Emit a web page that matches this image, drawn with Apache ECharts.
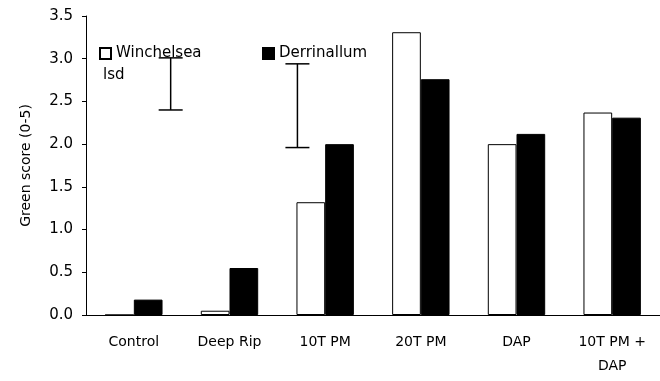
<!DOCTYPE html>
<html>
<head>
<meta charset="utf-8">
<script src="https://cdn.jsdelivr.net/npm/echarts@6/dist/echarts.min.js"></script>
<style>
  html, body { margin: 0; padding: 0; background: #fff; }
  #chart { width: 660px; height: 381px; }
</style>
</head>
<body>
<div id="chart"></div>
<script>
// categories and values
const categories = ['Control', 'Deep Rip', '10T PM', '20T PM', 'DAP', '10T PM +\nDAP'];
const winchelsea = [0, 0.05, 1.32, 3.31, 2.0, 2.37];
const derrinallum = [0.18, 0.55, 2.0, 2.76, 2.12, 2.31];

// lsd bars: position along the category axis (0..6) and their range
const lsdPos = [0.885, 2.21];
const lsdLow = [2.40, 1.96];
const lsdHigh = [3.01, 2.94];

const yTicks = [0, 0.5, 1, 1.5, 2, 2.5, 3, 3.5];

const FONT = 'DejaVu Sans';

const chart = echarts.init(document.getElementById('chart'));

const lsdData = lsdPos.map((x, i) => [x, lsdLow[i], lsdHigh[i]]);

const option = {
  animation: false,
  textStyle: { fontFamily: FONT, color: '#000' },
  grid: { left: 86, top: 16, width: 577, height: 299 },
  legend: [
    {
      data: ['Winchelsea'],
      left: 94, top: 41,
      itemWidth: 11, itemHeight: 11, itemGap: 4,
      icon: 'rect',
      textStyle: { fontFamily: FONT, fontSize: 15, color: '#000' }
    },
    {
      data: ['Derrinallum'],
      left: 257, top: 41,
      itemWidth: 11, itemHeight: 11, itemGap: 4,
      icon: 'rect',
      textStyle: { fontFamily: FONT, fontSize: 15, color: '#000' }
    }
  ],
  graphic: [{
    type: 'text',
    left: 103, top: 68,
    style: { text: 'lsd', font: '15px "DejaVu Sans"', fill: '#000' }
  }],
  xAxis: [
    {
      type: 'category',
      data: categories,
      axisLine: { lineStyle: { color: '#000', width: 1 } },
      axisTick: { length: 6, lineStyle: { color: '#000' } },
      axisLabel: { color: '#000', fontSize: 14, fontFamily: FONT, margin: 15, lineHeight: 24, interval: 0 }
    },
    {
      type: 'value', min: 0, max: 6, show: false
    }
  ],
  yAxis: {
    type: 'value',
    min: 0, max: 3.5, interval: 0.5,
    name: 'Green score (0-5)',
    nameLocation: 'middle',
    nameGap: 53,
    nameTextStyle: { fontSize: 14, fontFamily: FONT, color: '#000' },
    axisLine: { show: true, lineStyle: { color: '#000', width: 1 } },
    axisTick: { show: true, length: 4, lineStyle: { color: '#000' } },
    axisLabel: {
      color: '#000', fontSize: 15, fontFamily: FONT, margin: 13,
      formatter: v => yTicks.includes(v) ? v.toFixed(1) : ''
    },
    splitLine: { show: false }
  },
  series: [
    {
      name: 'Winchelsea',
      type: 'bar',
      data: winchelsea,
      barGap: 0,
      barCategoryGap: '40%',
      itemStyle: { color: '#fff', borderColor: '#000', borderWidth: 1 }
    },
    {
      name: 'Derrinallum',
      type: 'bar',
      data: derrinallum,
      barGap: 0,
      barCategoryGap: '40%',
      itemStyle: { color: '#000', borderColor: '#000', borderWidth: 1 }
    },
    {
      name: 'lsd',
      type: 'custom',
      xAxisIndex: 1,
      data: lsdData,
      encode: { x: 0, y: [1, 2] },
      renderItem: function (params, api) {
        const lo = api.coord([api.value(0), api.value(1)]);
        const hi = api.coord([api.value(0), api.value(2)]);
        const half = 12;
        const st = { stroke: '#000', lineWidth: 1.5 };
        return {
          type: 'group',
          children: [
            { type: 'line', shape: { x1: lo[0], y1: lo[1], x2: hi[0], y2: hi[1] }, style: st },
            { type: 'line', shape: { x1: lo[0] - half, y1: lo[1], x2: lo[0] + half, y2: lo[1] }, style: st },
            { type: 'line', shape: { x1: hi[0] - half, y1: hi[1], x2: hi[0] + half, y2: hi[1] }, style: st }
          ]
        };
      }
    }
  ]
};

chart.setOption(option);
</script>
</body>
</html>
